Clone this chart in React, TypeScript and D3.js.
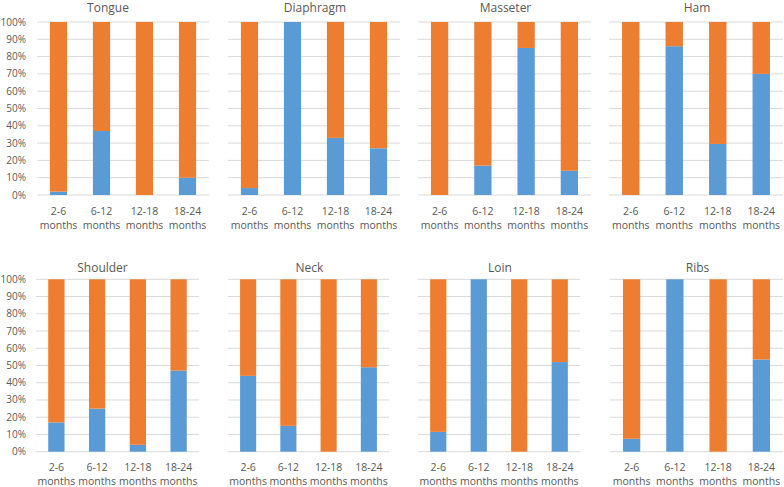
import * as d3 from "d3";

const W = 784;
const H = 487;

const ageGroups = ["2-6", "6-12", "12-18", "18-24"];
const muscles = ["Tongue", "Diaphragm", "Masseter", "Ham", "Shoulder", "Neck", "Loin", "Ribs"];

// share of the blue (lower) series in percent, per muscle, per age group
const tongue = [2, 37, 0, 10];
const diaphragm = [4, 100, 33, 27];
const masseter = [0, 17, 85, 14];
const ham = [0, 86, 29.5, 70];
const shoulder = [17, 25, 4, 47];
const neck = [44, 15, 0, 49];
const loin = [11.5, 100, 0, 52];
const ribs = [7.5, 100, 0, 53.5];
const blueShares = [tongue, diaphragm, masseter, ham, shoulder, neck, loin, ribs];

const yTicks = d3.range(0, 101, 10);

const BLUE = "#5B9BD5";
const ORANGE = "#ED7D31";
const GRID = "#D9D9D9";
const TEXT = "#595959";
const FONT = "'Open Sans', 'Liberation Sans', sans-serif";

// plot frames, by row
const rows = [
  { top: 22, bottom: 195, titleY: 12, cols: [[37, 209], [228, 400], [418, 591], [609, 783]] },
  { top: 279.3, bottom: 451.7, titleY: 272, cols: [[36, 199], [228, 389], [418, 580], [610, 783]] },
];

function Panel({ idx }: { idx: number }) {
  const row = rows[Math.floor(idx / 4)];
  const col = idx % 4;
  const [x0, x1] = row.cols[col];
  const x = d3.scaleBand<string>().domain(ageGroups).range([x0, x1]).paddingInner(0.6).paddingOuter(0.3);
  const y = d3.scaleLinear().domain([0, 100]).range([row.bottom, row.top]);
  const stack = d3
    .stack<{ age: string; blue: number; orange: number }>()
    .keys(["blue", "orange"]);
  const rowsData = ageGroups.map((age, i) => ({
    age,
    blue: blueShares[idx][i],
    orange: 100 - blueShares[idx][i],
  }));
  const series = stack(rowsData);
  const colors = [BLUE, ORANGE];
  const titleX = (x0 + x1) / 2 + (col === 0 ? -15 : 1);

  return (
    <g>
      {yTicks.map((t) => (
        <line key={t} x1={x0} x2={x1} y1={y(t)} y2={y(t)} stroke={GRID} strokeWidth={1} />
      ))}
      {col === 0 &&
        yTicks.map((t) => (
          <text
            key={"l" + t}
            x={26}
            y={y(t)}
            dy="0.35em"
            textAnchor="end"
            fontSize={10}
            fill={TEXT}
            fontFamily={FONT}
          >
            {t}%
          </text>
        ))}
      {series.map((s, si) =>
        s.map((d) => (
          <rect
            key={si + d.data.age}
            x={x(d.data.age)}
            width={x.bandwidth()}
            y={y(d[1])}
            height={Math.max(0, y(d[0]) - y(d[1]))}
            fill={colors[si]}
          />
        ))
      )}
      {ageGroups.map((a) => {
        const cx = (x(a) ?? 0) + x.bandwidth() / 2;
        return (
          <text key={"c" + a} textAnchor="middle" fontSize={10.5} fill={TEXT} fontFamily={FONT}>
            <tspan x={cx} y={row.bottom + 19.5}>
              {a}
            </tspan>
            <tspan x={cx} y={row.bottom + 33.5}>
              months
            </tspan>
          </text>
        );
      })}
      <text x={titleX} y={row.titleY} textAnchor="middle" fontSize={12} fill={TEXT} fontFamily={FONT}>
        {muscles[idx]}
      </text>
    </g>
  );
}

export default function App() {
  return (
    <div style={{ position: "absolute", left: 0, top: 0, width: W, height: H, background: "#fff" }}>
      <svg width={W} height={H}>
        <rect width={W} height={H} fill="#fff" />
        {muscles.map((m, i) => (
          <Panel key={m} idx={i} />
        ))}
      </svg>
    </div>
  );
}
